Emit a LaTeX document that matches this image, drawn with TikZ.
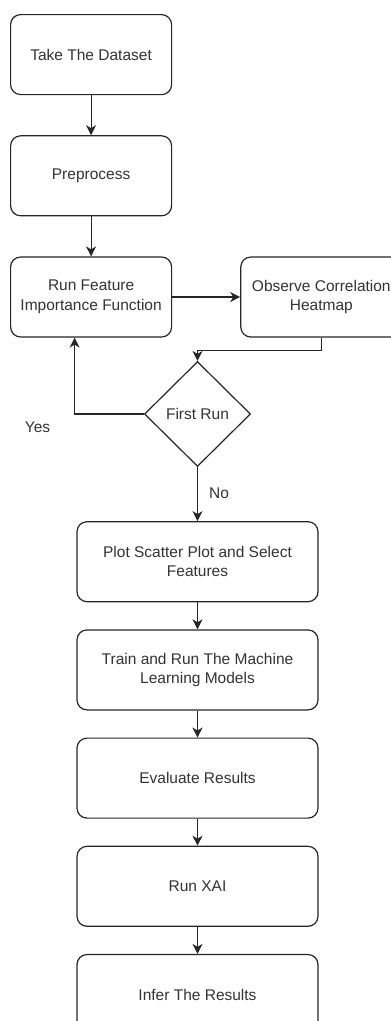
\documentclass[tikz,border=0pt]{standalone}
\usepackage{fontspec}
\setmainfont{Liberation Sans}
\usepackage{tikz}
\usetikzlibrary{positioning,arrows.meta,shapes.geometric}
\definecolor{cLine}{HTML}{262626}
\definecolor{cText}{HTML}{333333}

\begin{document}
\begin{tikzpicture}[
    font=\fontsize{15.5pt}{19.5pt}\selectfont,
    box/.style={draw=cLine, line width=1.2pt, rounded corners=10pt, align=center, text=cText, inner sep=2pt, minimum height=80pt, minimum width=161pt, fill=white},
    widebox/.style={box, minimum width=241pt},
    decision/.style={diamond, draw=cLine, line width=1.2pt, aspect=1, inner sep=0pt, minimum width=106pt, minimum height=105pt, text=cText, fill=white},
    lbl/.style={text=cText, inner sep=1pt},
    arr/.style={-{Stealth[length=10pt,width=10pt,inset=3pt]}, line width=1.2pt, cLine},
    node distance=40pt and 68pt
]
\useasboundingbox (0,0) rectangle (391pt,-1021pt);

\node[box, anchor=north west] (take) at (10pt,-14pt) {Take The Dataset};
\node[box, below=of take] (prep) {Preprocess};
\node[box, below=of prep] (runfi) {Run Feature\\Importance Function};
\node[box, right=of runfi] (heat) {Observe Correlation\\Heatmap};

\node[decision] (first) at (197.5pt,-414pt) {First Run};

\node[widebox, below=54pt of first] (plot) {Plot Scatter Plot and Select\\Features};
\node[widebox, below=27pt of plot] (train) {Train and Run The Machine\\Learning Models};
\node[widebox, below=27pt of train] (eval) {Evaluate Results};
\node[widebox, below=27pt of eval] (xai) {Run XAI};
\node[widebox, below=27pt of xai] (infer) {Infer The Results};

\node[lbl] (yes) at (37.5pt,-427pt) {Yes};
\node[lbl] (no) at (219pt,-493pt) {No};

\draw[arr] (take) -- (prep);
\draw[arr] (prep) -- (runfi);
\draw[arr] (runfi) -- (heat);
\draw[arr] (heat.south) -- ++(0,-13pt) -| (first.north);
\draw[arr] (first.west) -| ([xshift=-16.5pt]runfi.south);
\draw[arr] (first) -- (plot);
\draw[arr] (plot) -- (train);
\draw[arr] (train) -- (eval);
\draw[arr] (eval) -- (xai);
\draw[arr] (xai) -- (infer);
\end{tikzpicture}
\end{document}
